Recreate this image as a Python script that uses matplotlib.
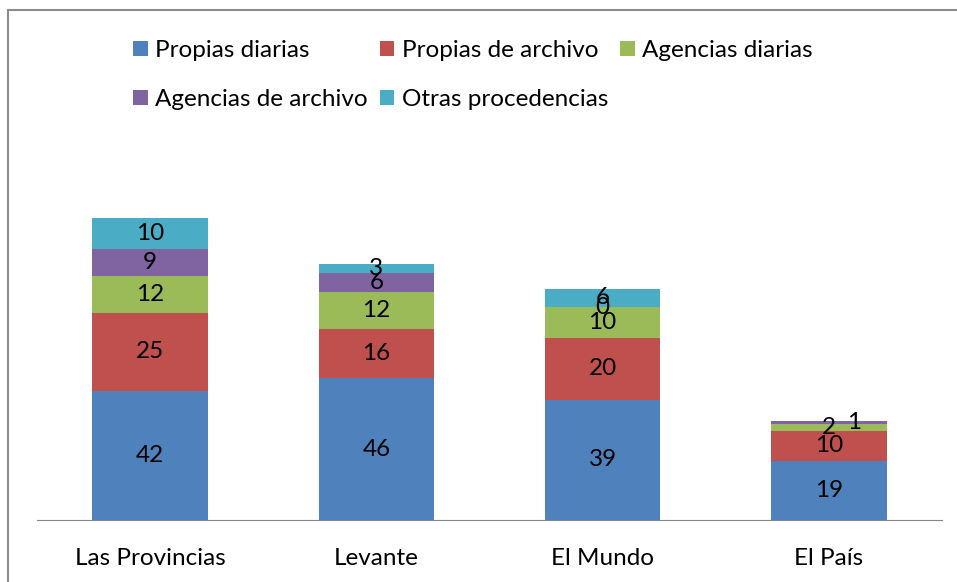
import numpy as np
import matplotlib
matplotlib.use('Agg')
import matplotlib.pyplot as plt
from matplotlib.patches import Rectangle, Patch

plt.rcParams['font.family'] = ['Lato', 'DejaVu Sans']

categories = ['Las Provincias', 'Levante', 'El Mundo', 'El País']
series = ['Propias diarias', 'Propias de archivo', 'Agencias diarias',
          'Agencias de archivo', 'Otras procedencias']
propias_diarias = [42, 46, 39, 19]
propias_archivo = [25, 16, 20, 10]
agencias_diarias = [12, 12, 10, 2]
agencias_archivo = [9, 6, 0, 1]
otras = [10, 3, 6, np.nan]

colors = ['#4f81bd', '#c0504d', '#9bbb59', '#8064a2', '#4bacc6']

values = [propias_diarias, propias_archivo, agencias_diarias, agencias_archivo, otras]

fig = plt.figure(figsize=(9.57, 5.82), dpi=100)
# outer chart frame
fig.patches.append(Rectangle((8 / 957, -0.05), 1.0, (582 - 10) / 582 + 0.05,
                             transform=fig.transFigure, fill=False,
                             edgecolor='#8c8c8c', linewidth=1.5))

ax = fig.add_axes([37 / 957, 62 / 582, (942 - 37) / 957, (520 - 150) / 582])
x = np.arange(len(categories))
bottom = np.zeros(len(categories))
fs = 17.5

for i, (name, vals) in enumerate(zip(series, values)):
    v = np.nan_to_num(np.array(vals, dtype=float))
    ax.bar(x, v, 0.51, bottom=bottom, color=colors[i], label=name)
    for j, val in enumerate(vals):
        if np.isnan(val):
            continue
        dx = 0.0
        y = bottom[j] + v[j] / 2
        if j == 3 and i == 3:
            dx = 0.11
        ax.text(x[j] + dx, y, f'{int(val)}', ha='center', va='center',
                fontsize=fs, color='black')
    bottom += v

ax.set_xlim(-0.5, len(categories) - 0.5)
ax.set_ylim(0, 120)
for s in ['top', 'right', 'left']:
    ax.spines[s].set_visible(False)
ax.spines['bottom'].set_color('#868686')
ax.set_yticks([])
ax.set_xticks(x)
ax.set_xticklabels(categories, fontsize=fs)
ax.tick_params(axis='x', length=0, pad=20)

handles = [Patch(facecolor=c) for c in colors]
order = [0, 3, 1, 4, 2]
fig.legend([handles[k] for k in order], [series[k] for k in order],
           ncol=3, loc='upper left', bbox_to_anchor=(133 / 957, 1 - 40 / 582),
           frameon=False, fontsize=fs, handlelength=0.6, handleheight=0.6,
           handletextpad=0.3, columnspacing=0.5, labelspacing=1.15,
           borderpad=0, borderaxespad=0)

fig.savefig('out.png', dpi=100)
